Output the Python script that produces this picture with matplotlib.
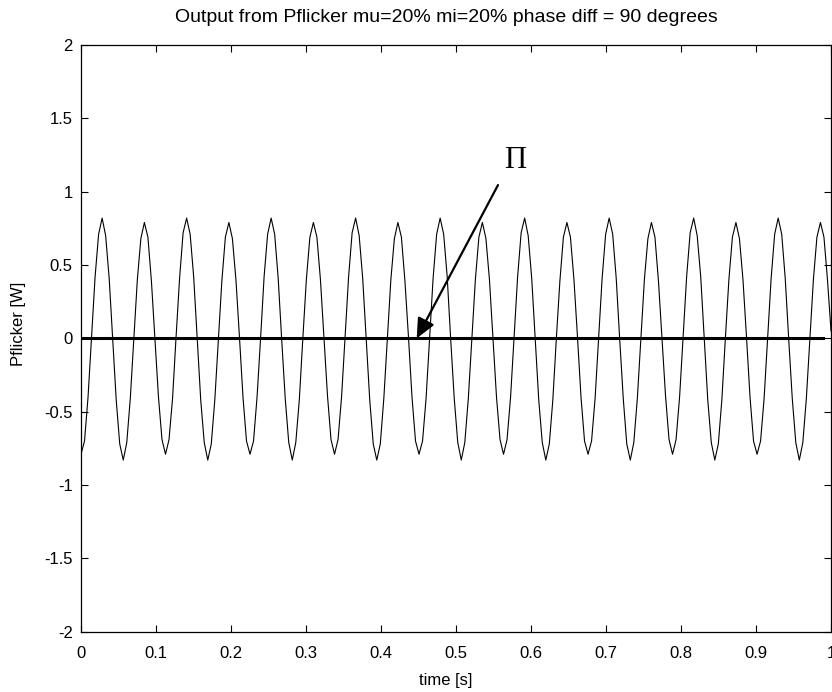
import numpy as np
import matplotlib.pyplot as plt

p_flicker = [
    -0.79, -0.70, -0.40, 0.01, 0.42, 0.71, 0.82, 0.70, 0.41, -0.01, -0.42, -0.72,
    -0.83, -0.71, -0.41, 0.00, 0.40, 0.68, 0.79, 0.69, 0.39, 0.00, -0.40, -0.69,
    -0.79, -0.69, -0.41, 0.01, 0.41, 0.72, 0.82, 0.71, 0.42, 0.00, -0.42, -0.71,
    -0.83, -0.72, -0.42, -0.01, 0.39, 0.69, 0.79, 0.68, 0.40, 0.01, -0.40, -0.70,
    -0.79, -0.70, -0.40, 0.00, 0.42, 0.71, 0.82, 0.71, 0.41, -0.01, -0.41, -0.71,
    -0.83, -0.71, -0.42, 0.00, 0.40, 0.69, 0.79, 0.69, 0.40, 0.00, -0.39, -0.69,
    -0.79, -0.69, -0.40, 0.01, 0.42, 0.72, 0.82, 0.70, 0.41, 0.00, -0.42, -0.72,
    -0.83, -0.72, -0.41, -0.01, 0.40, 0.68, 0.79, 0.69, 0.39, 0.01, -0.40, -0.70,
    -0.79, -0.70, -0.41, 0.00, 0.41, 0.71, 0.82, 0.71, 0.42, -0.01, -0.41, -0.71,
    -0.83, -0.71, -0.41, 0.00, 0.40, 0.69, 0.79, 0.68, 0.40, 0.00, -0.40, -0.69,
    -0.79, -0.69, -0.40, 0.01, 0.42, 0.72, 0.82, 0.70, 0.41, 0.00, -0.42, -0.71,
    -0.83, -0.72, -0.42, 0.00, 0.39, 0.69, 0.79, 0.69, 0.40, 0.01, -0.40, -0.70,
    -0.79, -0.70, -0.41, 0.00, 0.41, 0.71, 0.82, 0.71, 0.41, -0.01, -0.41, -0.72,
    -0.83, -0.71, -0.41, -0.01, 0.40, 0.68, 0.79, 0.69, 0.39, 0.00, -0.39, -0.69,
    -0.79, -0.69, -0.40, 0.01, 0.42, 0.72, 0.82, 0.70, 0.42, 0.00, -0.42, -0.71,
    -0.83, -0.72, -0.42, 0.00, 0.40, 0.69, 0.79, 0.68, 0.40, 0.01, -0.40, -0.70,
    -0.79, -0.70, -0.41, 0.00, 0.41, 0.71, 0.82, 0.71, 0.41, -0.01, -0.41, -0.71,
    -0.83, -0.71, -0.41, 0.00, 0.40, 0.69, 0.79, 0.69, 0.40, 0.05,
]
t_end = 1.0

zero_line_t = [0.0, 0.989]
zero_line_p = [0.0, 0.0]

arrow_tip = (0.4476, 0.0)
arrow_tail = (0.556, 1.045)
label_pos = (0.579, 1.215)

x_ticks = [0, 0.1, 0.2, 0.3, 0.4, 0.5, 0.6, 0.7, 0.8, 0.9, 1]
y_ticks = [-2, -1.5, -1, -0.5, 0, 0.5, 1, 1.5, 2]

plt.rcParams['font.family'] = ['Liberation Sans', 'DejaVu Sans']

fig = plt.figure(figsize=(8.32, 6.92), dpi=100)
ax = fig.add_axes([81 / 832, 1 - 631.7 / 692, 750 / 832, 586.7 / 692])

t = np.linspace(0, t_end, len(p_flicker))
ax.plot(t, p_flicker, color='black', lw=0.8)
ax.plot(zero_line_t, zero_line_p, color='black', lw=2.2)

ax.annotate('', xy=arrow_tip, xytext=arrow_tail,
            arrowprops=dict(arrowstyle='-|>,head_length=1.2,head_width=0.55',
                            color='black', lw=1.6, shrinkA=0, shrinkB=0))
ax.text(label_pos[0], label_pos[1], '\u03a0', family=['Liberation Serif', 'DejaVu Serif'],
        fontsize=22, ha='center', va='center')

ax.set_xlim(0, 1)
ax.set_ylim(-2, 2)
ax.set_xticks(x_ticks)
ax.set_xticklabels(['0', '0.1', '0.2', '0.3', '0.4', '0.5', '0.6', '0.7', '0.8', '0.9', '1'])
ax.set_yticks(y_ticks)
ax.set_yticklabels(['-2', '-1.5', '-1', '-0.5', '0', '0.5', '1', '1.5', '2'])
ax.tick_params(direction='in', top=True, right=True, length=5, width=0.8,
               labelsize=12)
ax.tick_params(axis='x', pad=10)
ax.tick_params(axis='y', pad=6)
for s in ax.spines.values():
    s.set_linewidth(0.9)

fig.text(446 / 832, 1 - 18 / 692, 'Output from Pflicker mu=20% mi=20% phase diff = 90 degrees',
         ha='center', va='center', fontsize=14)
fig.text(446 / 832, 1 - 680 / 692, 'time [s]', ha='center', va='center', fontsize=12)
fig.text(19 / 832, 1 - 324 / 692, 'Pflicker [W]', ha='center', va='center',
         rotation=90, fontsize=12)

fig.savefig('out.png', dpi=100)
